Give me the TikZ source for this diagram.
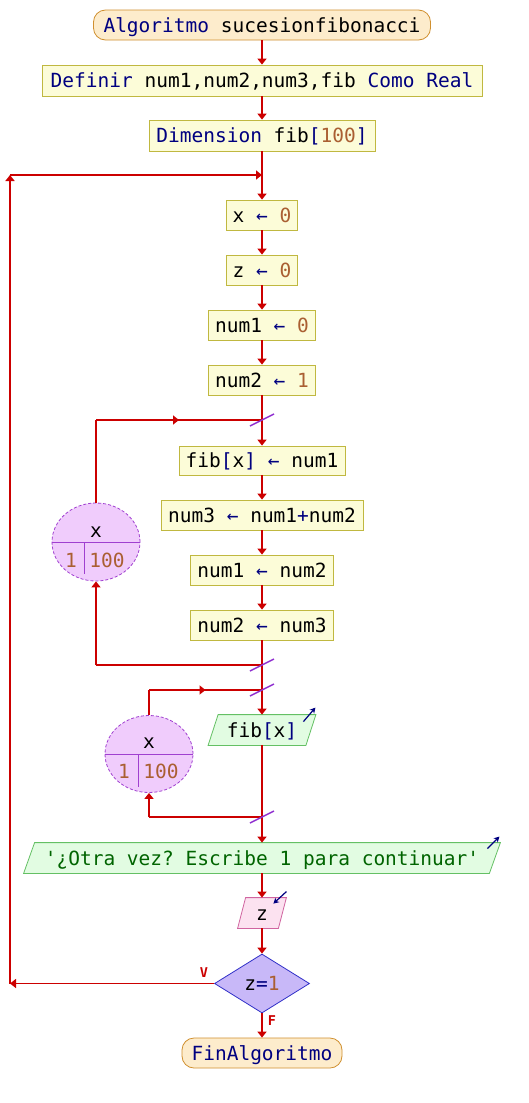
\documentclass[tikz,border=0pt]{standalone}
\usepackage{fontspec}
\setmonofont{DejaVu Sans Mono}
\usetikzlibrary{arrows.meta,shapes.geometric,decorations.markings,backgrounds}

\definecolor{kw}{RGB}{0,0,128}
\definecolor{num}{RGB}{170,95,50}
\definecolor{str}{RGB}{0,100,0}
\definecolor{flowred}{RGB}{204,0,0}
\definecolor{procfill}{RGB}{252,252,216}
\definecolor{procdraw}{RGB}{192,184,64}
\definecolor{termfill}{RGB}{253,236,204}
\definecolor{termdraw}{RGB}{208,144,48}
\definecolor{outfill}{RGB}{226,252,226}
\definecolor{outdraw}{RGB}{100,192,100}
\definecolor{infill}{RGB}{252,226,240}
\definecolor{indraw}{RGB}{208,100,160}
\definecolor{decfill}{RGB}{200,184,248}
\definecolor{decdraw}{RGB}{48,48,200}
\definecolor{loopfill}{RGB}{240,204,252}
\definecolor{loopdraw}{RGB}{160,64,208}
\definecolor{slashc}{RGB}{144,48,208}

\newcommand{\pskw}[1]{\textcolor{kw}{#1}}
\newcommand{\psnum}[1]{\textcolor{num}{#1}}
\newcommand{\psop}[1]{\textcolor{kw}{#1}}

\begin{document}
\begin{tikzpicture}[x=1pt,y=-1pt,
  font=\ttfamily\fontsize{19.5}{22}\selectfont,
  base/.style={inner sep=0pt, text height=16pt, text depth=2pt, minimum height=30pt, line width=0.8pt},
  proc/.style={base, draw=procdraw, fill=procfill},
  term/.style={base, draw=termdraw, fill=termfill, rounded corners=12pt},
  iotext/.style={base},
  outbox/.style={draw=outdraw, fill=outfill, line width=0.8pt},
  inbox/.style={draw=indraw, fill=infill, line width=0.8pt},
  decbox/.style={shape=diamond, draw=decdraw, fill=decfill, line width=0.8pt, inner sep=0pt,
    minimum width=95pt, minimum height=59pt, shape aspect=1.6},
  loopbox/.style={shape=ellipse, draw=loopdraw, fill=loopfill, line width=0.8pt, densely dashed,
    minimum width=88pt, minimum height=78pt, inner sep=0pt},
  divline/.style={draw=loopdraw, line width=0.8pt},
  looptext/.style={inner sep=0pt, anchor=base},
  line/.style={draw=flowred, line width=1.6pt},
  flow/.style={line, -{Triangle[length=6pt,width=9pt]}},
  midarrow/.style={postaction={decorate}, decoration={markings,
    mark=at position 0.5 with {\arrow[flowred]{Triangle[length=6pt,width=9pt]}}}},
  slash/.style={draw=slashc, line width=1.5pt},
  icon/.style={draw=kw, line width=1.2pt, -{Stealth[length=5.5pt,width=6pt]}},
  lbl/.style={text=flowred, font=\ttfamily\fontsize{13.5}{15}\selectfont\bfseries, inner sep=0pt},
]
\begin{scope}[on background layer]
  \fill[white] (0,0) rectangle (528,1103);
\end{scope}
\useasboundingbox (0,0) rectangle (528,1103);

% ---- statements ----
\node[term, minimum width=337pt] (start) at (262,25) {\pskw{Algoritmo} sucesionfibonacci};
\node[proc, minimum width=440pt, minimum height=31pt] (def) at (262,80.5) {\pskw{Definir} num1,num2,num3,fib \pskw{Como Real}};
\node[proc, minimum width=226pt, minimum height=31pt] (dim) at (262,135.5) {\pskw{Dimension} fib\pskw{[}\psnum{100}\pskw{]}};
\node[proc, minimum width=71pt] (x0) at (262,215) {x \psop{←} \psnum{0}};
\node[proc, minimum width=71pt] (z0) at (262,270) {z \psop{←} \psnum{0}};
\node[proc, minimum width=107pt] (n1) at (262,325) {num1 \psop{←} \psnum{0}};
\node[proc, minimum width=107pt] (n2) at (262,380) {num2 \psop{←} \psnum{1}};
\node[proc, minimum width=166pt, minimum height=29pt] (f1) at (262,460.5) {fib\pskw{[}x\pskw{]} \psop{←} num1};
\node[proc, minimum width=202pt] (n3) at (262,515) {num3 \psop{←} num1\psop{+}num2};
\node[proc, minimum width=143pt] (n4) at (262,570) {num1 \psop{←} num2};
\node[proc, minimum width=143pt] (n5) at (262,625) {num2 \psop{←} num3};

\node[iotext, minimum width=97pt] (out1) at (262,730) {fib\pskw{[}x\pskw{]}};
\node[iotext, minimum width=465pt] (out2) at (262,858) {\textcolor{str}{'¿Otra vez? Escribe 1 para continuar'}};
\node[iotext, minimum width=40pt] (in1) at (262,913) {z};
\node[decbox] (dec) at (262,983.5) {z\psop{=}\psnum{1}};
\node[term, minimum width=160pt] (fin) at (262,1053) {\pskw{FinAlgoritmo}};

% ---- parallelogram outlines for input/output ----
\begin{scope}[on background layer]
  \draw[outbox] ([xshift=5pt]out1.north west) -- ([xshift=5pt]out1.north east)
    -- ([xshift=-5pt]out1.south east) -- ([xshift=-5pt]out1.south west) -- cycle;
  \draw[outbox] ([xshift=5.5pt]out2.north west) -- ([xshift=5.5pt]out2.north east)
    -- ([xshift=-5.5pt]out2.south east) -- ([xshift=-5.5pt]out2.south west) -- cycle;
  \draw[inbox] ([xshift=4pt]in1.north west) -- ([xshift=4pt]in1.north east)
    -- ([xshift=-4pt]in1.south east) -- ([xshift=-4pt]in1.south west) -- cycle;
\end{scope}
\draw[icon] ([xshift=-7.5pt,yshift=-7pt]out1.north east) -- ([xshift=4.5pt,yshift=7pt]out1.north east);
\draw[icon] ([xshift=-7.5pt,yshift=-6pt]out2.north east) -- ([xshift=4.5pt,yshift=6pt]out2.north east);
\draw[icon] ([xshift=4pt,yshift=6pt]in1.north east) -- ([xshift=-9pt,yshift=-6pt]in1.north east);

% ---- for-loop counters ----
\node[loopbox] (loop1) at (96,542) {};
\draw[divline] (loop1.west) -- (loop1.east);
\draw[divline] ([xshift=-12pt]loop1.center) -- ([xshift=-12pt,yshift=-32pt]loop1.center);
\node[looptext] (loop1var) at (96,537) {x};
\node[looptext] (loop1from) at (71,567) {\psnum{1}};
\node[looptext] (loop1to) at (107,567) {\psnum{100}};

\node[loopbox, minimum height=77pt] (loop2) at (149,754) {};
\draw[divline] (loop2.west) -- (loop2.east);
\draw[divline] ([xshift=-11pt]loop2.center) -- ([xshift=-11pt,yshift=-33pt]loop2.center);
\node[looptext] (loop2var) at (149,748) {x};
\node[looptext] (loop2from) at (124,778) {\psnum{1}};
\node[looptext] (loop2to) at (161,778) {\psnum{100}};

% ---- junction points ----
\coordinate (j0) at (262,175);
\coordinate (bl) at (10,983.5);
\coordinate (tl) at (10,175);
\coordinate (l1t) at (262,420);
\coordinate (l1b) at (262,665);
\coordinate (c1t) at (96,420);
\coordinate (c1b) at (96,665);
\coordinate (l2t) at (262,690);
\coordinate (l2b) at (262,817);
\coordinate (c2t) at (149,690);
\coordinate (c2b) at (149,817);

% ---- main flow ----
\draw[flow] (start) -- (def);
\draw[flow] (def) -- (dim);
\draw[flow] (dim) -- (x0);
\draw[flow] (x0) -- (z0);
\draw[flow] (z0) -- (n1);
\draw[flow] (n1) -- (n2);
\draw[flow] (n2) -- (f1);
\draw[flow] (f1) -- (n3);
\draw[flow] (n3) -- (n4);
\draw[flow] (n4) -- (n5);
\draw[flow] (n5.south) -- (out1.north);
\draw[flow] (out1.south) -- (out2.north);
\draw[flow] (out2.south) -- (in1.north);
\draw[flow] (in1.south) -- (dec.north);
\draw[flow] (dec.south) -- (fin.north);

% ---- repeat loop back ----
\draw[flow] (dec.west) -- (bl);
\draw[flow] (bl) -- (tl);
\draw[flow] (tl) -- (j0);

% ---- first for-loop ----
\draw[line] (l1b) -- (c1b);
\draw[flow] (c1b) -- (loop1.south);
\draw[line] (loop1.north) -- (c1t);
\draw[line, midarrow] (c1t) -- (l1t);

% ---- second for-loop ----
\draw[line] (l2b) -- (c2b);
\draw[flow] (c2b) -- (loop2.south);
\draw[line] (loop2.north) -- (c2t);
\draw[line, midarrow] (c2t) -- (l2t);

% ---- loop markers on the main line ----
\foreach \p in {l1t,l1b,l2t,l2b}
  \draw[slash] ([xshift=-12pt,yshift=-6pt]\p) -- ([xshift=12pt,yshift=6pt]\p);

% ---- branch labels ----
\node[lbl] (vlab) at (204,973) {V};
\node[lbl] (flab) at (272,1021) {F};
\end{tikzpicture}
\end{document}
